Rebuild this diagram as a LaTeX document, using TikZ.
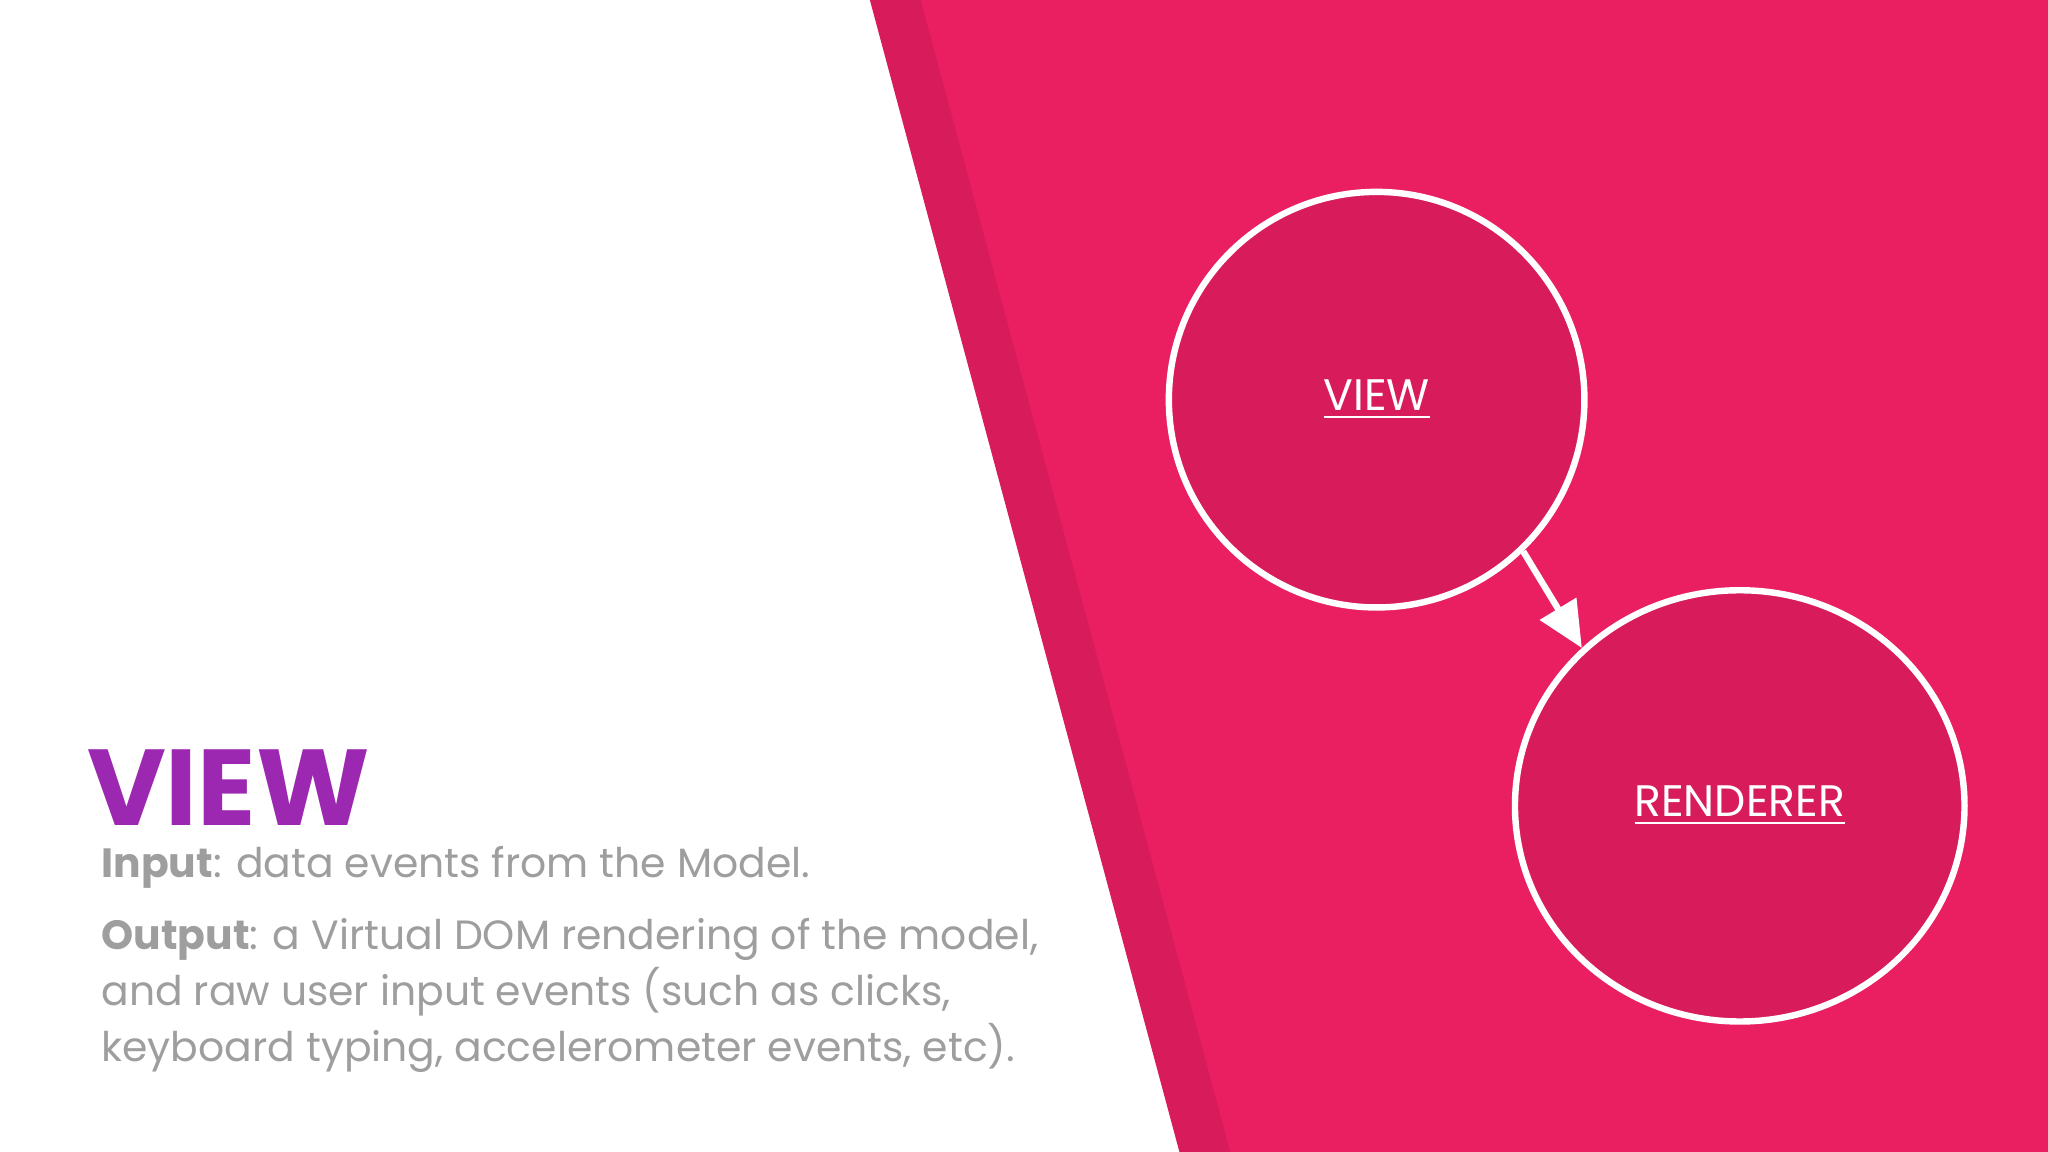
\documentclass[tikz,border=0pt]{standalone}
\usepackage{fontspec}
\setmainfont{Poppins}
\usetikzlibrary{arrows.meta,shapes.geometric}
\definecolor{lpink}{HTML}{E91F62}
\definecolor{dpink}{HTML}{D81B5A}
\definecolor{vpurple}{HTML}{9C27B0}
\definecolor{tgray}{HTML}{9E9E9E}
\tikzset{circ/.style={draw=white,line width=1.4pt,fill=dpink,inner sep=0pt},
 clabel/.style={text=white,font=\fontsize{9.6}{10}\selectfont},
 body/.style={text=tgray,anchor=base west,inner sep=0pt,font=\fontsize{8.9}{12.2}\selectfont}}
\begin{document}
\begin{tikzpicture}[x=0.01cm,y=-0.01cm]
\useasboundingbox (0,0) rectangle (1568,882);
\fill[white] (0,0) rectangle (1568,882);
\fill[dpink] (666,0) -- (1568,0) -- (1568,882) -- (903,882) -- cycle;
\fill[lpink] (705,0) -- (1568,0) -- (1568,882) -- (942,882) -- cycle;
\node[circ,circle,minimum size=3.18cm] (view) at (1054,306) {};
\node[clabel] at (view) {\underline{VIEW}};
\node[circ,ellipse,minimum width=3.44cm,minimum height=3.3cm] (rend) at (1332,617) {};
\node[clabel] at (rend) {\underline{RENDERER}};
\draw[white,line width=1.4pt,-{Triangle[length=10pt,width=9pt]}] (view.-46) -- (rend.135);
\node[anchor=base west,inner sep=0pt,text=vpurple,font=\fontsize{23.5}{24}\selectfont\bfseries] (title) at (66,632) {VIEW};
\node[body] (in) at (77,672) {\textbf{Input}: data events from the Model.};
\node[body] (out1) at (77,727) {\textbf{Output}: a Virtual DOM rendering of the model,};
\node[body] (out2) at (77,770) {and raw user input events (such as clicks,};
\node[body] (out3) at (77,813) {keyboard typing, accelerometer events, etc).};
\end{tikzpicture}
\end{document}
